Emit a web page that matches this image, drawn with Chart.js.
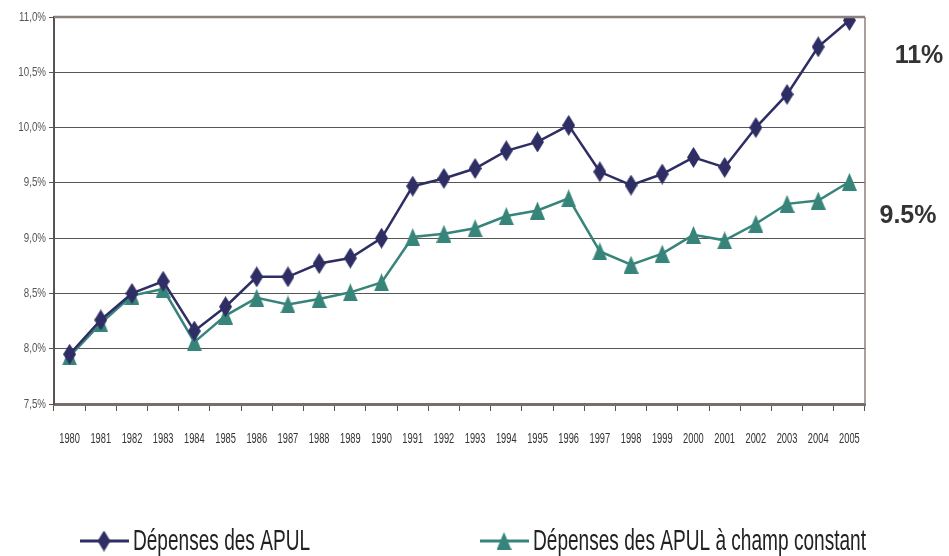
<!DOCTYPE html>
<html>
<head>
<meta charset="utf-8">
<script src="https://cdn.jsdelivr.net/npm/chart.js@4/dist/chart.umd.min.js"></script>
<style>
  body { margin: 0; background: #fff; }
</style>
</head>
<body>
<canvas id="graph" width="949" height="556"></canvas>
<script>
const years = ['1980', '1981', '1982', '1983', '1984', '1985', '1986', '1987', '1988', '1989', '1990', '1991', '1992',
    '1993', '1994', '1995', '1996', '1997', '1998', '1999', '2000', '2001', '2002', '2003', '2004', '2005'];
const depensesApul = [7.95, 8.26, 8.50, 8.61, 8.16, 8.38, 8.65, 8.65, 8.77, 8.82, 9.00, 9.47, 9.54,
    9.63, 9.79, 9.87, 10.02, 9.60, 9.48, 9.58, 9.73, 9.64, 10.00, 10.30, 10.73, 10.97];
const depensesChampConstant = [7.93, 8.23, 8.48, 8.54, 8.06, 8.30, 8.46, 8.40, 8.45, 8.51, 8.60, 9.01, 9.04,
    9.09, 9.20, 9.25, 9.36, 8.88, 8.76, 8.86, 9.03, 8.98, 9.13, 9.31, 9.34, 9.51];
const seriesNames = ['Dépenses des APUL', 'Dépenses des APUL à champ constant'];
const sideLabels = ['11%', '9.5%'];

const blue = '#2f2e64';
const green = '#37857a';
const sans = '"Liberation Sans", Arial, sans-serif';

function makeDiamond(w, h, color) {
    const c = document.createElement('canvas');
    c.width = w; c.height = h;
    const g = c.getContext('2d');
    g.fillStyle = color;
    g.beginPath();
    g.moveTo(w / 2, 0);
    g.lineTo(w, h / 2);
    g.lineTo(w / 2, h);
    g.lineTo(0, h / 2);
    g.closePath();
    g.fill();
    return c;
}

function makeTriangle(w, h, color) {
    const c = document.createElement('canvas');
    c.width = w; c.height = h;
    const g = c.getContext('2d');
    g.fillStyle = color;
    g.beginPath();
    g.moveTo(w / 2, 0);
    g.lineTo(w, h);
    g.lineTo(0, h);
    g.closePath();
    g.fill();
    return c;
}

const diamond = makeDiamond(13, 21, blue);
const triangle = makeTriangle(15, 18, green);

// text squeezed horizontally, like the narrow font of the original
function narrowText(ctx, text, x, y, sx, align) {
    const w = ctx.measureText(text).width * sx;
    let left = x;
    if (align === 'center') left = x - w / 2;
    if (align === 'right') left = x - w;
    ctx.save();
    ctx.translate(left, y);
    ctx.scale(sx, 1);
    ctx.textAlign = 'left';
    ctx.textBaseline = 'middle';
    ctx.fillText(text, 0, 0);
    ctx.restore();
}

function fitText(ctx, text, x, y, width) {
    narrowText(ctx, text, x, y, width / ctx.measureText(text).width, 'left');
}

const extras = {
    id: 'extras',
    afterDraw(chart) {
        const ctx = chart.ctx;
        const a = chart.chartArea;
        const xs = chart.scales.x;
        const ys = chart.scales.y;
        ctx.save();

        // top and right frame
        ctx.strokeStyle = '#8c807b';
        ctx.lineWidth = 2.5;
        ctx.beginPath();
        ctx.moveTo(a.left, a.top);
        ctx.lineTo(a.right, a.top);
        ctx.stroke();
        ctx.lineWidth = 1.5;
        ctx.beginPath();
        ctx.moveTo(a.right, a.top);
        ctx.lineTo(a.right, a.bottom);
        ctx.stroke();

        // tick labels
        ctx.fillStyle = '#333';
        ctx.font = '15.5px ' + sans;
        xs.ticks.forEach(function (t, i) {
            narrowText(ctx, years[t.value], xs.getPixelForTick(i), 439, 0.6, 'center');
        });
        ctx.fillStyle = '#555';
        ctx.font = '13px ' + sans;
        ys.ticks.forEach(function (t, i) {
            const label = t.value.toFixed(1).replace('.', ',') + '%';
            narrowText(ctx, label, 46, ys.getPixelForTick(i), 0.75, 'right');
        });

        // legend
        const items = [
            { x: 80, width: 177, color: blue, marker: diamond },
            { x: 480, width: 333, color: green, marker: triangle }
        ];
        const ly = 541;
        ctx.font = '29px ' + sans;
        ctx.fillStyle = '#222';
        items.forEach(function (it, i) {
            ctx.strokeStyle = it.color;
            ctx.lineWidth = 3;
            ctx.beginPath();
            ctx.moveTo(it.x, ly);
            ctx.lineTo(it.x + 49, ly);
            ctx.stroke();
            ctx.drawImage(it.marker, it.x + 24 - it.marker.width / 2, ly - it.marker.height / 2);
            fitText(ctx, seriesNames[i], it.x + 53, ly + 1, it.width);
        });

        // side labels
        ctx.fillStyle = '#333';
        ctx.font = 'bold 25px ' + sans;
        ctx.textAlign = 'center';
        ctx.textBaseline = 'middle';
        ctx.fillText(sideLabels[0], 919, 56);
        ctx.fillText(sideLabels[1], 908, 216);
        ctx.restore();
    }
};

const context = document.getElementById('graph');
new Chart(context, {
    type: 'line',
    data: {
        labels: years,
        datasets: [
            {
                label: seriesNames[0],
                data: depensesApul,
                borderColor: blue,
                borderWidth: 2.5,
                pointStyle: diamond,
                tension: 0
            },
            {
                label: seriesNames[1],
                data: depensesChampConstant,
                borderColor: green,
                borderWidth: 2.5,
                pointStyle: triangle,
                tension: 0
            }
        ]
    },
    options: {
        responsive: false,
        animation: false,
        layout: { padding: { top: 17, right: 84, left: 0, bottom: 0 } },
        plugins: { legend: { display: false }, tooltip: { enabled: false } },
        scales: {
            x: {
                offset: true,
                afterFit: function (axis) { axis.height = 152; },
                grid: { offset: true, drawOnChartArea: false, drawTicks: true, tickLength: 7, color: '#555', lineWidth: 1 },
                border: { color: '#7a6e6a', width: 3 },
                ticks: { padding: 22, maxRotation: 0, autoSkip: false, color: 'rgba(0,0,0,0)', font: { size: 11 } }
            },
            y: {
                min: 7.5,
                max: 11,
                afterFit: function (axis) { axis.width = 54; },
                grid: { color: '#555', lineWidth: 1, tickLength: 5 },
                border: { color: '#555', width: 2 },
                ticks: { stepSize: 0.5, padding: 3, color: 'rgba(0,0,0,0)', font: { size: 11 } }
            }
        }
    },
    plugins: [extras]
});
</script>
</body>
</html>
